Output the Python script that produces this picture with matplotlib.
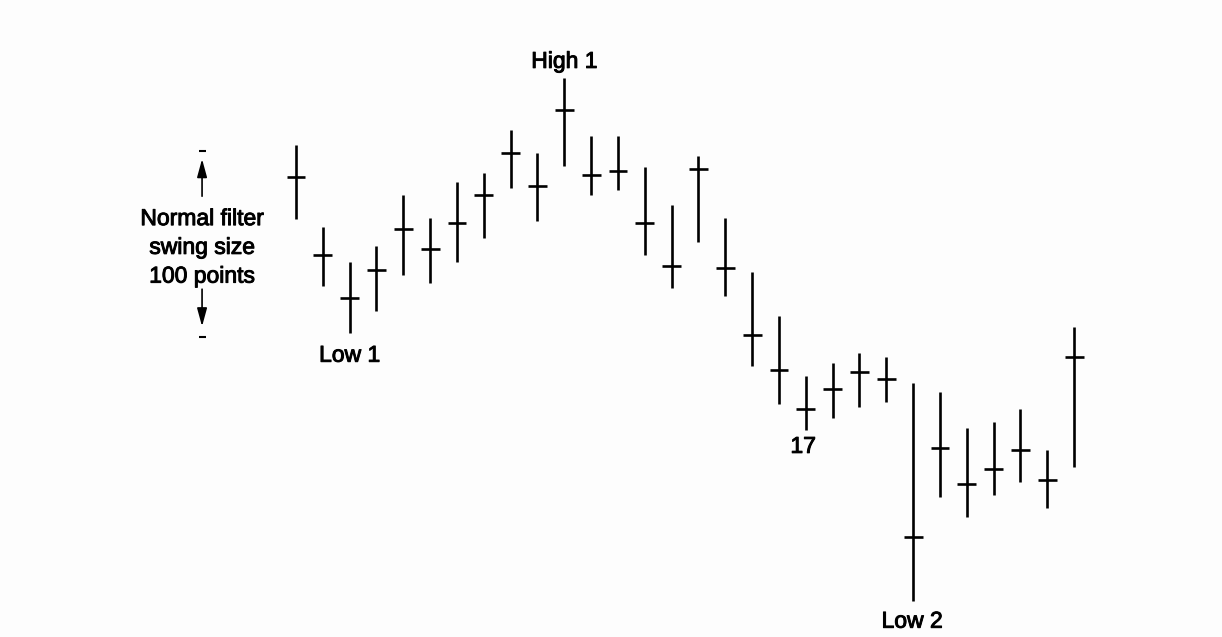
import matplotlib
matplotlib.use('Agg')
import matplotlib.pyplot as plt
import matplotlib.patheffects as pe

# daily bars: high, low, close (points)
highs = [1122, 1078, 1059, 1068, 1095, 1083, 1102, 1107, 1130, 1118,
         1158, 1127, 1127, 1110, 1090, 1116, 1083, 1054, 1030, 998,
         1005, 1010, 1008, 994, 989, 970, 973, 980, 958, 1024]
lows = [1082, 1046, 1021, 1033, 1052, 1048, 1059, 1072, 1099, 1081,
        1111, 1095, 1098, 1063, 1045, 1070, 1041, 1003, 983, 969,
        975, 981, 984, 877, 933, 922, 934, 941, 927, 949]
closes = [1105, 1063, 1040, 1055, 1077, 1066, 1080, 1095, 1118, 1100,
          1141, 1106, 1108, 1080, 1057, 1109, 1056, 1020, 1001, 980,
          991, 1000, 996, 911, 959, 940, 948, 958, 942, 1008]

# swing points labelled on the chart: (text, bar index, price)
swing_labels = [('High 1', 10, 1167), ('Low 1', 2, 1009),
                ('17', 18.9, 960), ('Low 2', 22.96, 866)]

swing_top = 1119
swing_size = 100

plt.rcParams['font.family'] = ['Liberation Sans', 'DejaVu Sans']

fig = plt.figure(figsize=(12.22, 6.37), dpi=100, facecolor='#fdfdfd')
ax = fig.add_axes([0, 0, 1, 1])
ax.set_facecolor('#fdfdfd')
ax.set_xlim(-11.03, 34.51)
ax.set_ylim(857.5, 1200)
ax.axis('off')

# slightly heavier text, like the printed figure
heavy = [pe.withStroke(linewidth=0.7, foreground='black')]

x = list(range(len(highs)))
ax.vlines(x, lows, highs, color='black', lw=1.9)
# close tick across the bar
ax.hlines(closes, [i - 0.35 for i in x], [i + 0.35 for i in x], color='black', lw=1.9)

for text, xi, yi in swing_labels:
    ax.text(xi, yi, text, ha='center', va='center', fontsize=16.5,
            color='black', path_effects=heavy)

# swing size marker on the left
ax_x = -3.5
swing_bottom = swing_top - swing_size
ax.hlines([swing_top, swing_bottom], ax_x - 0.13, ax_x + 0.13, color='black', lw=1.5)
ax.annotate('', xy=(ax_x, swing_top - 3), xytext=(ax_x, swing_top - 26),
            arrowprops=dict(arrowstyle='-|>,head_width=0.3,head_length=1.1',
                            color='black', lw=1.2))
ax.annotate('', xy=(ax_x, swing_bottom + 4), xytext=(ax_x, swing_bottom + 27),
            arrowprops=dict(arrowstyle='-|>,head_width=0.3,head_length=1.1',
                            color='black', lw=1.2))
ax.text(ax_x, swing_top - swing_size / 2 - 2, 'Normal filter\nswing size\n100 points',
        ha='center', va='center', fontsize=16.5, linespacing=1.32,
        color='black', path_effects=heavy)

fig.savefig('out.png', dpi=100, facecolor=fig.get_facecolor())
